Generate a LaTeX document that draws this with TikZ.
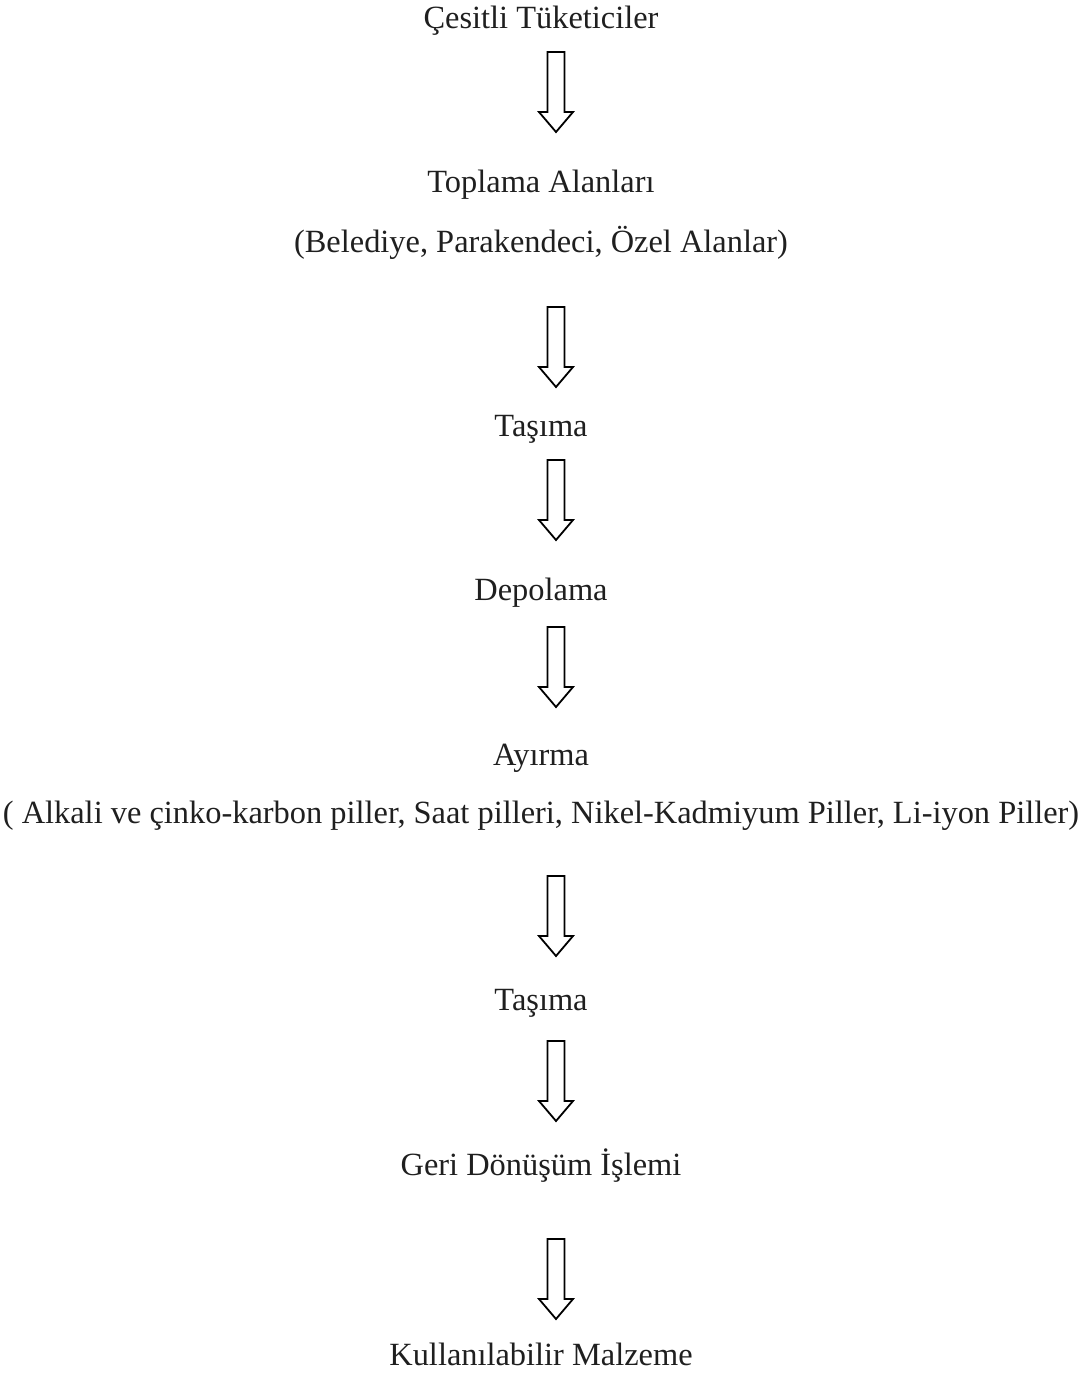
\documentclass[tikz,border=0pt]{standalone}
\usepackage{fontspec}
\setmainfont{Liberation Serif}
\begin{document}
\begin{tikzpicture}[x=1pt,y=-1pt,
  lbl/.style={anchor=base,inner sep=0pt,font=\fontsize{32.4}{38}\selectfont,text=black!88},
  downarrow/.pic={\draw[line width=1.8pt,line join=miter] (-8.5,0) -- (8.5,0) -- (8.5,60) -- (17,60) -- (0,80) -- (-17,60) -- (-8.5,60) -- cycle;}]
\useasboundingbox (0,0) rectangle (1086,1373);
\node[lbl] (t1) at (541,28) {Çesitli Tüketiciler};
\node[lbl] (t2) at (541,192) {Toplama Alanları};
\node[lbl] (t3) at (541,252) {(Belediye, Parakendeci, Özel Alanlar)};
\node[lbl] (t4) at (541,436) {Taşıma};
\node[lbl] (t5) at (541,600) {Depolama};
\node[lbl] (t6) at (541,765) {Ayırma};
\node[lbl] (t7) at (541,823) {( Alkali ve çinko-karbon piller, Saat pilleri, Nikel-Kadmiyum Piller, Li-iyon Piller)};
\node[lbl] (t8) at (541,1010) {Taşıma};
\node[lbl] (t9) at (541,1175) {Geri Dönüşüm İşlemi};
\node[lbl] (t10) at (541,1365) {Kullanılabilir Malzeme};
\pic at (556,52) {downarrow};
\pic at (556,307) {downarrow};
\pic at (556,460) {downarrow};
\pic at (556,627) {downarrow};
\pic at (556,876) {downarrow};
\pic at (556,1041) {downarrow};
\pic at (556,1239) {downarrow};
\end{tikzpicture}
\end{document}
